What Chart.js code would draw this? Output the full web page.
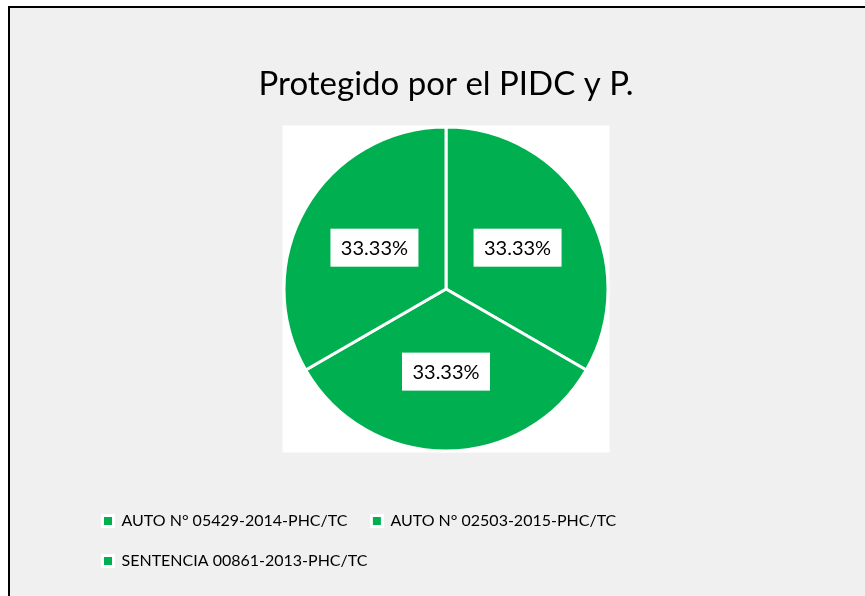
<!DOCTYPE html>
<html>
<head>
<meta charset="utf-8">
<script src="https://cdn.jsdelivr.net/npm/chart.js@4/dist/chart.umd.min.js"></script>
<style>
    html, body { margin: 0; padding: 0; background: #ffffff; overflow: hidden; }
    .frame {
        position: absolute;
        left: 8px;
        top: 6px;
        width: 900px;
        height: 620px;
        border: 2px solid #000000;
        background: #f0f0f0;
    }
    .chart-box { position: relative; width: 855px; height: 588px; }
</style>
</head>
<body>
<div class="frame">
    <div class="chart-box"><canvas id="pidcChart"></canvas></div>
</div>
<script>
// Chart data
const categories = [
    'AUTO N° 05429-2014-PHC/TC',
    'AUTO N° 02503-2015-PHC/TC',
    'SENTENCIA 00861-2013-PHC/TC'
];
const values = [1, 1, 1];
const sliceColors = ['#00B050', '#00B050', '#00B050'];
const chartTitle = 'Protegido por el PIDC y P.';

const FONT = 'Lato, "Open Sans", "DejaVu Sans", sans-serif';

// White square behind the pie (plot area)
const plotAreaBg = {
    id: 'plotAreaBg',
    beforeDatasetsDraw(chart) {
        const arc = chart.getDatasetMeta(0).data[0];
        if (!arc) return;
        const {x, y, outerRadius} = arc.getProps(['x', 'y', 'outerRadius'], true);
        const half = outerRadius + 1.5;
        const ctx = chart.ctx;
        ctx.save();
        ctx.fillStyle = '#ffffff';
        ctx.fillRect(x - half, y - half, half * 2, half * 2);
        ctx.restore();
    }
};

// Percentage labels in white boxes
const sliceLabels = {
    id: 'sliceLabels',
    afterDatasetsDraw(chart) {
        const ctx = chart.ctx;
        const data = chart.data.datasets[0].data;
        const total = data.reduce((a, b) => a + b, 0);
        chart.getDatasetMeta(0).data.forEach((arc, i) => {
            const p = arc.getProps(['x', 'y', 'startAngle', 'endAngle', 'outerRadius'], true);
            const mid = (p.startAngle + p.endAngle) / 2;
            const r = p.outerRadius * 0.51;
            const lx = p.x + Math.cos(mid) * r;
            const ly = p.y + Math.sin(mid) * r;
            const text = (data[i] / total * 100).toFixed(2) + '%';
            ctx.save();
            ctx.fillStyle = '#ffffff';
            ctx.fillRect(lx - 44, ly - 19, 88, 38);
            ctx.font = '20px ' + FONT;
            ctx.fillStyle = '#000000';
            ctx.textAlign = 'center';
            ctx.textBaseline = 'middle';
            ctx.fillText(text, lx, ly + 1);
            ctx.restore();
        });
    }
};

new Chart(document.getElementById('pidcChart'), {
    type: 'pie',
    data: {
        labels: categories,
        datasets: [{
            data: values,
            backgroundColor: sliceColors,
            borderColor: '#ffffff',
            borderWidth: 3
        }]
    },
    options: {
        responsive: true,
        maintainAspectRatio: false,
        animation: false,
        radius: 162,
        layout: {
            padding: { left: 68.5, right: 51.5, top: 0, bottom: 17 }
        },
        plugins: {
            title: {
                display: true,
                text: chartTitle,
                color: '#000000',
                font: { family: FONT, size: 33, weight: 'normal', lineHeight: 0.2727 },
                padding: { top: 72, bottom: 0 }
            },
            legend: {
                position: 'bottom',
                align: 'start',
                labels: {
                    color: '#000000',
                    font: { family: FONT, size: 16 },
                    boxWidth: 11,
                    boxHeight: 11,
                    padding: 24,
                    generateLabels(chart) {
                        return chart.data.labels.map((label, i) => ({
                            text: label,
                            fillStyle: sliceColors[i],
                            strokeStyle: '#ffffff',
                            lineWidth: 3,
                            fontColor: '#000000',
                            hidden: false,
                            index: i
                        }));
                    }
                }
            },
            tooltip: { enabled: false }
        }
    },
    plugins: [plotAreaBg, sliceLabels]
});
</script>
</body>
</html>
